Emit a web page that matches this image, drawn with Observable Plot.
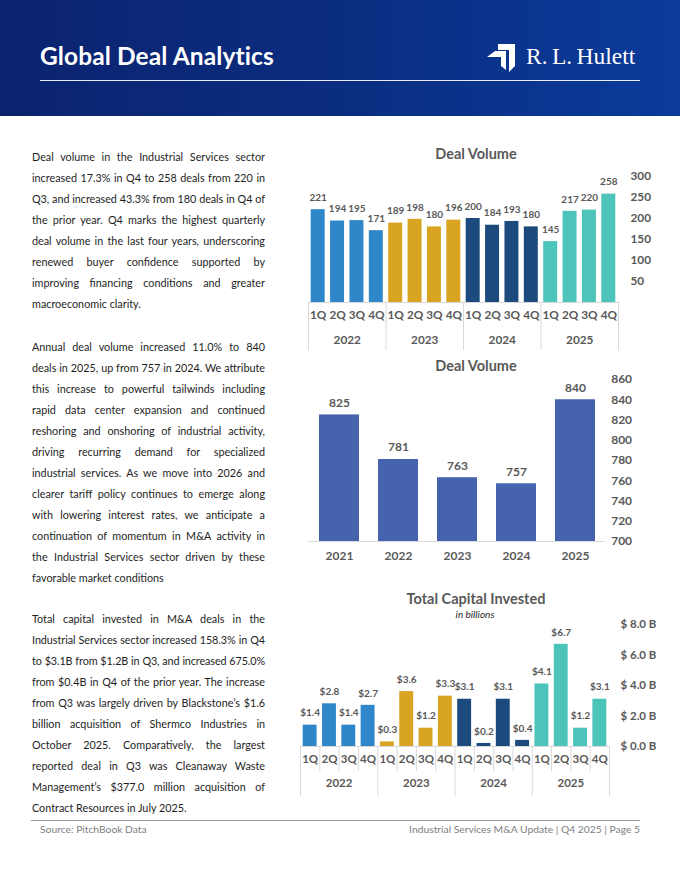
<!DOCTYPE html>
<html>
<head>
<meta charset="utf-8">
<script src="https://cdn.jsdelivr.net/npm/d3@7"></script>
<script src="https://cdn.jsdelivr.net/npm/@observablehq/plot@0.6"></script>
<style>
  html, body { margin: 0; padding: 0; background: #fff; }
  #page { position: relative; width: 680px; height: 880px; overflow: hidden; font-family: Lato, "Open Sans", sans-serif; }
  #header { position: absolute; left: 0; top: 0; width: 680px; height: 116px;
    background: linear-gradient(90deg, #0b236f 0%, #0b2d80 50%, #0a3b9b 100%); }
  #title { position: absolute; left: 40px; top: 41px; color: #fff; font: bold 24.5px Lato, sans-serif; white-space: nowrap; letter-spacing: 0.1px; }
  #hline { position: absolute; left: 40px; top: 80px; width: 600px; height: 1px; background: #e8ecf6; }
  #logo { position: absolute; left: 486px; top: 43px; }
  #brand { position: absolute; left: 526px; top: 43px; color: #fff; font: 23.5px "Liberation Serif", "DejaVu Serif", serif; white-space: nowrap; word-spacing: -1.5px; }
  .para { position: absolute; left: 32px; width: 233px; font-size: 10.8px; line-height: 21.05px; color: #1e1e1e; }
  .ln { display: block; white-space: nowrap; text-align: justify; text-align-last: justify; height: 21.05px; }
  .ln.last { text-align: left; text-align-last: left; }
  .ctitle { position: absolute; left: 300px; width: 352px; text-align: center; font: bold 14.5px Lato, sans-serif; color: #595959; white-space: nowrap; }
  .csub { position: absolute; left: 300px; width: 350px; text-align: center; font: italic 10px Lato, sans-serif; color: #262626; }
  .chart { position: absolute; left: 0; }
  #fline { position: absolute; left: 31px; top: 820px; width: 609px; height: 1px; background: #9a9a9a; }
  #src { position: absolute; left: 40px; top: 823px; font-size: 10.3px; color: #808080; }
  #pg { position: absolute; right: 40px; top: 823px; font-size: 10.3px; color: #808080; white-space: nowrap; }
</style>
</head>
<body>
<div id="page">
  <div id="header">
    <div id="title">Global Deal Analytics</div>
    <div id="hline"></div>
    <svg id="logo" width="32" height="30" viewBox="0 0 32 30">
      <polygon points="12,1 29,1 29,23 23,29 23,7 12,7" fill="#fff"/>
      <polygon points="1,14 9,8 20,8 20,27 15,23 15,14" fill="#fff"/>
    </svg>
    <div id="brand">R. L. Hulett</div>
  </div>

  <div class="para" id="p1" style="top:145.5px">
    <span class="ln">Deal volume in the Industrial Services sector</span>
    <span class="ln">increased 17.3% in Q4 to 258 deals from 220 in</span>
    <span class="ln">Q3, and increased 43.3% from 180 deals in Q4 of</span>
    <span class="ln">the prior year. Q4 marks the highest quarterly</span>
    <span class="ln">deal volume in the last four years, underscoring</span>
    <span class="ln">renewed buyer confidence supported by</span>
    <span class="ln">improving financing conditions and greater</span>
    <span class="ln last">macroeconomic clarity.</span>
  </div>
  <div class="para" id="p2" style="top:335.5px">
    <span class="ln">Annual deal volume increased 11.0% to 840</span>
    <span class="ln">deals in 2025, up from 757 in 2024. We attribute</span>
    <span class="ln">this increase to powerful tailwinds including</span>
    <span class="ln">rapid data center expansion and continued</span>
    <span class="ln">reshoring and onshoring of industrial activity,</span>
    <span class="ln">driving recurring demand for specialized</span>
    <span class="ln">industrial services. As we move into 2026 and</span>
    <span class="ln">clearer tariff policy continues to emerge along</span>
    <span class="ln">with lowering interest rates, we anticipate a</span>
    <span class="ln">continuation of momentum in M&amp;A activity in</span>
    <span class="ln">the Industrial Services sector driven by these</span>
    <span class="ln last">favorable market conditions</span>
  </div>
  <div class="para" id="p3" style="top:607.5px">
    <span class="ln">Total capital invested in M&amp;A deals in the</span>
    <span class="ln">Industrial Services sector increased 158.3% in Q4</span>
    <span class="ln">to $3.1B from $1.2B in Q3, and increased 675.0%</span>
    <span class="ln">from $0.4B in Q4 of the prior year. The increase</span>
    <span class="ln">from Q3 was largely driven by Blackstone’s $1.6</span>
    <span class="ln">billion acquisition of Shermco Industries in</span>
    <span class="ln">October 2025. Comparatively, the largest</span>
    <span class="ln">reported deal in Q3 was Cleanaway Waste</span>
    <span class="ln">Management’s $377.0 million acquisition of</span>
    <span class="ln last">Contract Resources in July 2025.</span>
  </div>

  <div class="ctitle" style="top:145px">Deal Volume</div>
  <div class="ctitle" style="top:357px">Deal Volume</div>
  <div class="ctitle" style="top:590px">Total Capital Invested</div>
  <div class="csub" style="top:608px">in billions</div>

  <div class="chart" id="c1" style="top:160px"></div>
  <div class="chart" id="c2" style="top:370px"></div>
  <div class="chart" id="c3" style="top:620px"></div>

  <div id="fline"></div>
  <div id="src">Source: PitchBook Data</div>
  <div id="pg">Industrial Services M&amp;A Update | Q4 2025 | Page 5</div>
</div>

<script>
// ---------- data ----------
const years = ["2022", "2023", "2024", "2025"];
const quarters = ["1Q", "2Q", "3Q", "4Q"];
const dealVolumeQuarterly = [221, 194, 195, 171, 189, 198, 180, 196, 200, 184, 193, 180, 145, 217, 220, 258];
const capitalInvested = [1.4, 2.8, 1.4, 2.7, 0.3, 3.6, 1.2, 3.3, 3.1, 0.2, 3.1, 0.4, 4.1, 6.7, 1.2, 3.1];
const annualYears = ["2021", "2022", "2023", "2024", "2025"];
const dealVolumeAnnual = [825, 781, 763, 757, 840];
const yearColors = ["#2f86c9", "#d9a422", "#1c4a7d", "#4cc4ba"];
const annualColor = "#4664ad";
const ticksQuarterly = [50, 100, 150, 200, 250, 300];
const ticksAnnual = [700, 720, 740, 760, 780, 800, 820, 840, 860];
const ticksCapital = [0, 2, 4, 6, 8];

// ---------- derived tables ----------
const qRows = (values) => years.flatMap((y, yi) => quarters.map((q, qi) => ({
  year: y, quarter: q, i: yi * 4 + qi, value: values[yi * 4 + qi]
})));
const volRows = qRows(dealVolumeQuarterly);
const capRows = qRows(capitalInvested);
const yearRows = years.map((y, yi) => ({year: y, i: yi}));
const yearBounds = d3.range(0, years.length * 4 + 1, 4);
const quarterBounds = d3.range(1, years.length * 4).filter(v => v % 4 !== 0);
const annualRows = annualYears.map((y, i) => ({year: y, value: dealVolumeAnnual[i]}));

const gray = "#595959";
const lineGray = "#d9d9d9";
const baseStyle = {background: "none", overflow: "visible", fontFamily: "Lato, sans-serif", fontWeight: "bold", color: gray};

function quarterChart({rows, ticks, yDomain, height, mt, mb, ml, mr, tickPad, fmtVal, fmtTick,
                       valSize, axisSize, qdy, ydy, sepYear, sepQuarter}) {
  const plotH = height - mt - mb;
  const marks = [
    Plot.rectY(rows, {x1: "i", x2: d => d.i + 1, y: "value", fill: "year", insetLeft: 2.7, insetRight: 2.7}),
    Plot.ruleY([0], {stroke: lineGray}),
    Plot.text(rows, {x: d => d.i + 0.5, y: "value", text: d => fmtVal(d.value), dy: -12, fontSize: valSize, fill: gray}),
    Plot.axisY(ticks, {anchor: "right", tickSize: 0, tickPadding: tickPad, fontSize: axisSize, label: null, tickFormat: fmtTick}),
    Plot.text(rows, {x: d => d.i + 0.5, text: "quarter", frameAnchor: "bottom", dy: qdy, fontSize: axisSize, fill: gray}),
    Plot.text(yearRows, {x: d => d.i * 4 + 2, text: "year", frameAnchor: "bottom", dy: ydy, fontSize: axisSize, fill: gray}),
    Plot.ruleX(yearBounds, {stroke: lineGray, insetTop: plotH, insetBottom: -sepYear})
  ];
  if (sepQuarter) marks.push(Plot.ruleX(quarterBounds, {stroke: lineGray, insetTop: plotH, insetBottom: -sepQuarter}));
  return Plot.plot({
    width: 680, height,
    marginTop: mt, marginBottom: mb, marginLeft: ml, marginRight: mr,
    style: baseStyle,
    x: {type: "linear", domain: [0, years.length * 4], axis: null},
    y: {domain: yDomain, axis: null},
    color: {domain: years, range: yearColors},
    marks
  });
}

document.getElementById("c1").append(quarterChart({
  rows: volRows, ticks: ticksQuarterly, yDomain: [0, 300], height: 200, mt: 16, mb: 58, ml: 308, mr: 62,
  tickPad: 12, fmtVal: v => String(v), fmtTick: d => String(d), valSize: 10, axisSize: 11.8,
  qdy: 16, ydy: 41, sepYear: 48, sepQuarter: 0
}));

document.getElementById("c3").append(quarterChart({
  rows: capRows, ticks: ticksCapital, yDomain: [0, 8], height: 190, mt: 4, mb: 64, ml: 300, mr: 71,
  tickPad: 11, fmtVal: v => "$" + v.toFixed(1), fmtTick: d => "$ " + d.toFixed(1) + " B", valSize: 10, axisSize: 11.5,
  qdy: 16, ydy: 40, sepYear: 50, sepQuarter: 25
}));

document.getElementById("c2").append(Plot.plot({
  width: 680, height: 200,
  marginTop: 9, marginBottom: 29, marginLeft: 308.2, marginRight: 75.3,
  style: baseStyle,
  x: {domain: annualYears, paddingInner: 0.33, paddingOuter: 0.165, axis: null},
  y: {domain: [ticksAnnual[0], ticksAnnual[ticksAnnual.length - 1]], axis: null},
  marks: [
    Plot.barY(annualRows, {x: "year", y1: ticksAnnual[0], y2: "value", fill: annualColor}),
    Plot.ruleY([ticksAnnual[0]], {stroke: lineGray}),
    Plot.text(annualRows, {x: "year", y: "value", text: d => String(d.value), dy: -12, fontSize: 12, fill: gray}),
    Plot.axisX({tickSize: 0, tickPadding: 10, fontSize: 12, label: null}),
    Plot.axisY(ticksAnnual, {anchor: "right", tickSize: 0, tickPadding: 6, fontSize: 12, label: null})
  ]
}));

// fit justified lines that overflow
document.querySelectorAll(".ln").forEach(el => {
  let ls = 0;
  while (el.scrollWidth > el.clientWidth + 0.5 && ls > -1) {
    ls -= 0.05;
    el.style.letterSpacing = ls + "px";
  }
});
</script>
</body>
</html>
